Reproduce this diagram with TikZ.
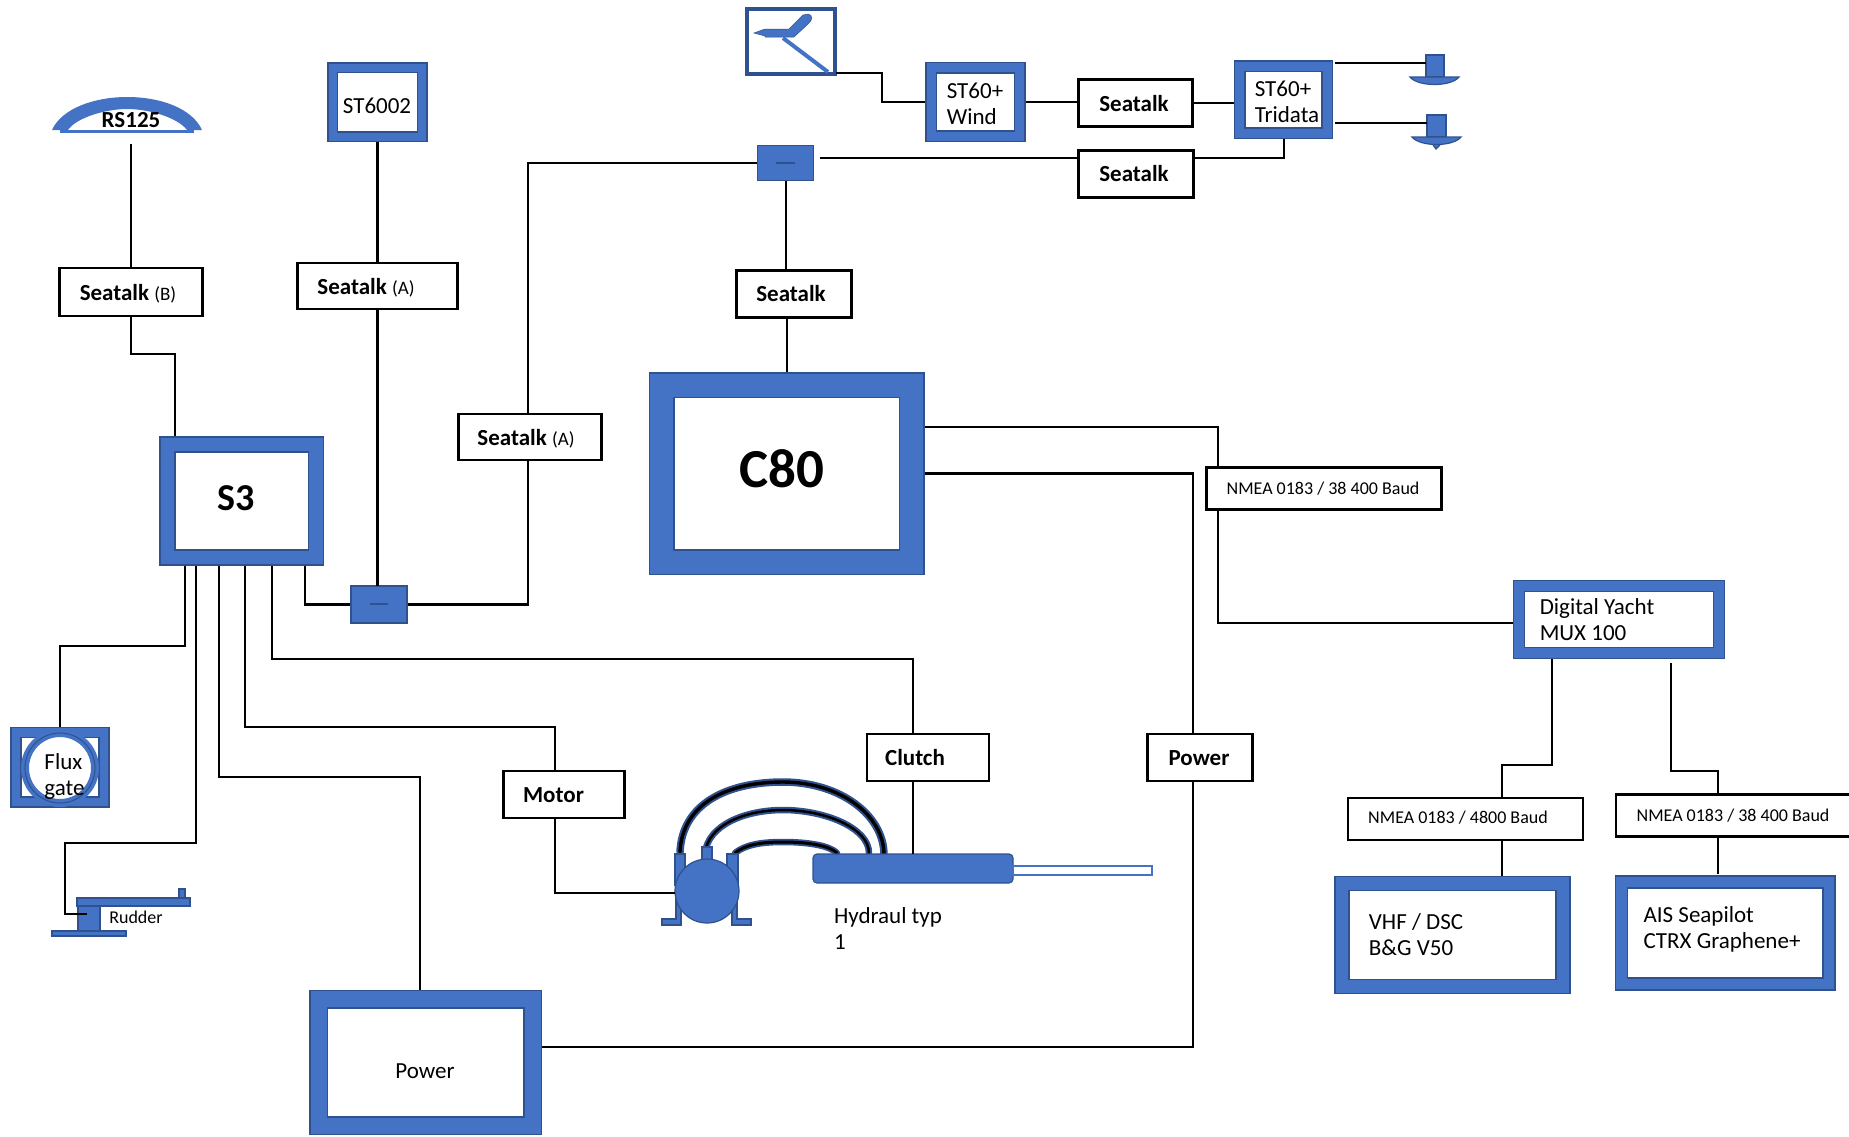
\documentclass[tikz,border=0pt]{standalone}
\usepackage{fontspec}
\setmainfont{Carlito}
\definecolor{partblue}{HTML}{4472C4}
\definecolor{partedge}{HTML}{2F528F}
\tikzset{
  wire/.style={black,line width=2.8pt},
  hose/.style={line width=#1,line cap=round},
  part/.style={fill=partblue,draw=partedge,line width=1.2pt},
  frame/.style={draw=partedge,line width=1.5pt,double=partblue,double distance=#1-3pt,
    fill=white,inner sep=0pt,outer sep=#1/2},
  tagbox/.style={draw=black,line width=2.8pt,fill=white,inner sep=0pt,outer sep=1.4pt},
  plain/.style={inner sep=0pt,align=left,font=\fontsize{23}{26}\selectfont},
  boldword/.style={inner sep=0pt,font=\fontsize{23}{26}\selectfont\bfseries},
  smallword/.style={inner sep=0pt,font=\fontsize{18}{20}\selectfont},
  junction/.style={fill=partblue,draw=partedge,line width=1.2pt,inner sep=0pt,outer sep=0.6pt},
}
\begin{document}
\begin{tikzpicture}[x=1pt,y=-1pt]
  \useasboundingbox (0,0) rectangle (1849,1136);

  % boxes with a blue frame
  \node[frame=16.5pt,minimum width=148.5pt,minimum height=113pt] (s3) at (241.5,501) {};
  \node[frame=11pt,minimum width=89.5pt,minimum height=69pt] (st6002) at (377.5,102) {};
  \node[frame=12pt,minimum width=88.5pt,minimum height=68.5pt] (wind) at (975.5,102) {};
  \node[frame=12pt,minimum width=87.5pt,minimum height=67pt] (tridata) at (1283.5,99.5) {};
  \node[frame=26pt,minimum width=250pt,minimum height=177pt] (c80) at (786.5,473.5) {};
  \node[frame=19pt,minimum width=214pt,minimum height=126.5pt] (power) at (425.5,1062.5) {};
  \node[frame=12.5pt,minimum width=200pt,minimum height=67pt] (mux) at (1619,619.5) {};
  \node[frame=15.5pt,minimum width=221pt,minimum height=103pt] (vhf) at (1452.5,935) {};
  \node[frame=13.5pt,minimum width=207.5pt,minimum height=102pt] (ais) at (1725,933) {};
  \node[frame=11.5pt,minimum width=88pt,minimum height=69.5pt] (flux) at (60,767) {};

  % boxes with a black line
  \node[tagbox,minimum width=143pt,minimum height=48pt] (seatalkb) at (131,292) {};
  \node[tagbox,minimum width=160pt,minimum height=46pt] (seatalka) at (377.5,286) {};
  \node[tagbox,minimum width=143pt,minimum height=46pt] (seatalkc) at (530,437) {};
  \node[tagbox,minimum width=115pt,minimum height=47pt] (seatalkd) at (794,294) {};
  \node[tagbox,minimum width=114pt,minimum height=47pt] (seatalke) at (1135.5,103) {};
  \node[tagbox,minimum width=115pt,minimum height=47pt] (seatalkf) at (1136,174) {};
  \node[tagbox,minimum width=235pt,minimum height=42pt] (nmeaa) at (1324,488.5) {};
  \node[tagbox,minimum width=235pt,minimum height=42pt] (nmeab) at (1465.5,819) {};
  \node[tagbox,minimum width=238pt,minimum height=42pt] (nmeac) at (1735,815.5) {};
  \node[tagbox,minimum width=121pt,minimum height=47pt] (motor) at (564,794.5) {};
  \node[tagbox,minimum width=122pt,minimum height=47pt] (clutch) at (928,757.5) {};
  \node[tagbox,minimum width=105pt,minimum height=47pt] (powertag) at (1200,757.5) {};

  % junction boxes
  \node[junction,minimum width=56pt,minimum height=37pt] (juncs) at (379,604.5) {};
  \node[junction,minimum width=56pt,minimum height=35pt] (juncc) at (785.5,163) {};
  \draw[partedge,line width=2pt] (370,604) -- (388,604);
  \draw[partedge,line width=2pt] (776,163) -- (795,163);

  % wind vane
  \node[draw=partedge,line width=4pt,fill=white,minimum width=88pt,minimum height=65pt,inner sep=0pt,outer sep=2pt] (vane) at (790.5,41) {};
  \draw[part,line width=0.5pt] (754,33) -- (765,29) -- (789,29) -- (803,15) -- (808,14)
    .. controls (813,15) and (813,20) .. (808,24) -- (794,37) -- (765,37) -- (765,36) -- cycle;
  \draw[partblue,line width=4pt] (783,38) -- (828,72);

  % radar dome
  \coordinate (rsa) at (131,144);
  \fill[partblue] (52,130) .. controls (62,108) and (95,97) .. (127,97)
    .. controls (160,97) and (192,108) .. (202,130) -- (187,130)
    .. controls (178,118) and (150,109) .. (127,109)
    .. controls (105,109) and (76,118) .. (68,130) -- cycle;
  \fill[partblue] (60,130) rectangle (194,133);

  % depth and speed sensors
  \coordinate (sensa) at (1426,63);
  \coordinate (sensb) at (1427,123);
  \draw[part] (1426,55) rectangle (1444,77);
  \draw[part] (1410,77) .. controls (1418,87) and (1451,87) .. (1459,77) -- cycle;
  \draw[part] (1427,115) rectangle (1446,137);
  \draw[part] (1412,137) .. controls (1420,147) and (1453,147) .. (1461,137) -- cycle;
  \draw[part] (1433,145) -- (1436,149) -- (1440,145);

  % rudder
  \draw[part] (77,898) rectangle (190,906);
  \draw[part] (179,889) rectangle (185,898);
  \draw[part] (78,906) rectangle (100,931);
  \draw[part] (52,931) rectangle (126,936);
  \coordinate (rudder) at (87,914);

  % pump and cylinder
  \draw[partedge,hose=7.5pt] (680,852) .. controls (682,805) and (725,782) .. (783,782) .. controls (840,782) and (884,815) .. (884,855);
  \draw[black,hose=3.4pt] (680,852) .. controls (682,805) and (725,782) .. (783,782) .. controls (840,782) and (884,815) .. (884,855);
  \draw[partedge,hose=6.5pt] (705,853) .. controls (708,825) and (745,810) .. (783,810) .. controls (825,810) and (869,828) .. (869,853);
  \draw[black,hose=2.5pt] (705,853) .. controls (708,825) and (745,810) .. (783,810) .. controls (825,810) and (869,828) .. (869,853);
  \draw[partedge,hose=6.5pt] (735,853) .. controls (745,845) and (760,842) .. (783,842) .. controls (810,842) and (830,846) .. (837,853);
  \draw[black,hose=3pt] (735,853) .. controls (745,845) and (760,842) .. (783,842) .. controls (810,842) and (830,846) .. (837,853);
  \draw[part] (675,854) rectangle (685,885);
  \draw[part] (727,854) rectangle (738,885);
  \draw[part] (702,847) rectangle (712,862);
  \draw[part] (676,895) -- (681,895) -- (681,925) -- (662,925) -- (662,919) -- (676,919) -- cycle;
  \draw[part] (732,895) -- (737,895) -- (737,919) -- (751,919) -- (751,925) -- (732,925) -- cycle;
  \node[circle,part,minimum size=64pt,inner sep=0pt,outer sep=0.6pt] (pump) at (707,891) {};
  \node[part,rounded corners=4pt,minimum width=200pt,minimum height=29pt,inner sep=0pt,outer sep=0.6pt] (cylinder) at (913,868.5) {};
  \draw[partblue,line width=1.6pt,fill=white] (1013,866) rectangle (1152,875);

  % flux gate ring
  \draw[partblue,line width=8pt,fill=white] (60,768) circle [radius=35pt];
  \draw[partedge,line width=1pt] (60,768) circle [radius=35pt];

  % connection points on the boxes
  \coordinate (s3a) at (185,566);
  \coordinate (s3b) at (196,566);
  \coordinate (s3c) at (219,566);
  \coordinate (s3d) at (245,566);
  \coordinate (s3e) at (272,566);
  \coordinate (s3f) at (305,566);
  \coordinate (s3top) at (175,436);
  \coordinate (c80a) at (925,427);
  \coordinate (nmeaatop) at (1218,467);
  \coordinate (nmeaabot) at (1218,510);
  \coordinate (muxin) at (1513,623);
  \coordinate (powertop) at (1193,733);
  \coordinate (powerbot) at (1193,782);
  \coordinate (powerin) at (542,1047);
  \coordinate (powerup) at (420,990);
  \coordinate (muxa) at (1552,659);
  \coordinate (muxb) at (1671,663);
  \coordinate (tridatabot) at (1284,139);
  \coordinate (tridataa) at (1335,63);
  \coordinate (tridatab) at (1335,123);
  \coordinate (cylinderin) at (913,854);
  \coordinate (nmeabtop) at (1502,797);
  \coordinate (nmeabbot) at (1502,841);
  \coordinate (vhftop) at (1502,876);
  \coordinate (nmeactop) at (1718,794);
  \coordinate (nmeacbot) at (1718,838);
  \coordinate (aistop) at (1718,874);
  \coordinate (seatalkfin) at (1193,158);
  \coordinate (seatalkfout) at (1078,158);
  \coordinate (juncout) at (820,158);
  \coordinate (vaneout) at (836,73);
  \coordinate (juncstop) at (377.5,586);
  \coordinate (junccbot) at (786,181);
  \coordinate (seatalkdtop) at (786,270);
  \coordinate (seatalkdbot) at (787,318);
  \coordinate (c80top) at (787,372);
  \coordinate (seatalkcbot) at (528,460);
  \coordinate (seatalkctop) at (528,414);
  \coordinate (pumpin) at (675,893);

  % connectors
  \draw[wire] (rsa) -- (seatalkb.north);
  \draw[wire] (seatalkb.south) -- (131,354) -| (s3top);
  \draw[wire] (st6002.south) -- (seatalka.north);
  \draw[wire] (seatalka.south) -- (juncstop);
  \draw[wire] (s3f) |- (juncs.west);
  \draw[wire] (juncs.east) -| (seatalkcbot);
  \draw[wire] (seatalkctop) |- (juncc.west);
  \draw[wire] (junccbot) -- (seatalkdtop);
  \draw[wire] (seatalkdbot) -- (c80top);
  \draw[wire] (juncout) -- (seatalkfout);
  \draw[wire] (seatalkfin) -| (tridatabot);
  \draw[wire] (vaneout) -- (882,73) |- (wind.west);
  \draw[wire] (wind.east) -- (wind.east -| seatalke.west);
  \draw[wire] (seatalke.east) -- (seatalke.east -| tridata.west);
  \draw[wire] (tridataa) -- (sensa);
  \draw[wire] (tridatab) -- (sensb);
  \draw[wire] (c80a) -| (nmeaatop);
  \draw[wire] (nmeaabot) |- (muxin);
  \draw[wire] (c80.east) -| (powertop);
  \draw[wire] (powerbot) |- (powerin);
  \draw[wire] (muxa) -- (1552,765) -| (nmeabtop);
  \draw[wire] (muxb) -- (1671,771) -| (nmeactop);
  \draw[wire] (nmeabbot) -- (vhftop);
  \draw[wire] (nmeacbot) -- (aistop);
  \draw[wire] (s3a) -- (185,646) -| (flux.north);
  \draw[wire] (s3b) -- (196,843) -- (65,843) |- (rudder);
  \draw[wire] (s3c) -- (219,777) -| (powerup);
  \draw[wire] (s3d) -- (245,727) -| (555,771);
  \draw[wire] (s3e) -- (272,659) -| (913,734);
  \draw[wire] (555,818) |- (pumpin);
  \draw[wire] (913,782) -- (cylinderin);

  % texts
  \node[boldword] (rslabel) at (131,120) {RS125};
  \node[plain] (st6002label) at (377,106) {ST6002};
  \node[plain] (powerlabel) at (425,1071) {Power};
  \node[plain] (fluxlabel) at (64.5,776) {Flux\\gate};
  \node[smallword] (rudderlabel) at (136,917) {Rudder};
  \node[plain,font=\fontsize{38}{40}\selectfont\bfseries] (s3label) at (236,498) {S3};
  \node[plain,font=\fontsize{55}{58}\selectfont\bfseries] (c80label) at (782,469) {C80};
  \node[plain] (windlabel) at (975,104) {ST60+\\Wind};
  \node[plain] (tridatalabel) at (1287,102) {ST60+\\Tridata};
  \node[plain] (muxlabel) at (1597,620) {Digital Yacht\\MUX 100};
  \node[plain] (vhflabel) at (1416,935) {VHF / DSC\\B\&G V50};
  \node[plain] (aislabel) at (1722,929) {AIS Seapilot\\CTRX Graphene+};
  \node[plain] (hydraullabel) at (888,928) {Hydraul typ\\1};
  \node[boldword] (blabel) at (128,294) {Seatalk \fontsize{19}{20}\selectfont\mdseries(B)};
  \node[boldword] (alabel) at (366,288) {Seatalk \fontsize{19}{20}\selectfont\mdseries(A)};
  \node[boldword] (clabel) at (526,439) {Seatalk \fontsize{19}{20}\selectfont\mdseries(A)};
  \node[boldword] (dlabel) at (791,294) {Seatalk};
  \node[boldword] (elabel) at (1134,104) {Seatalk};
  \node[boldword] (flabel) at (1134,174) {Seatalk};
  \node[smallword] (nalabel) at (1323,489) {NMEA 0183 / 38 400 Baud};
  \node[smallword] (nblabel) at (1458,818) {NMEA 0183 / 4800 Baud};
  \node[smallword] (nclabel) at (1733,816) {NMEA 0183 / 38 400 Baud};
  \node[boldword] (motorlabel) at (553.5,795) {Motor};
  \node[boldword] (clutchlabel) at (915,758) {Clutch};
  \node[boldword] (ptaglabel) at (1199,758) {Power};
\end{tikzpicture}
\end{document}
